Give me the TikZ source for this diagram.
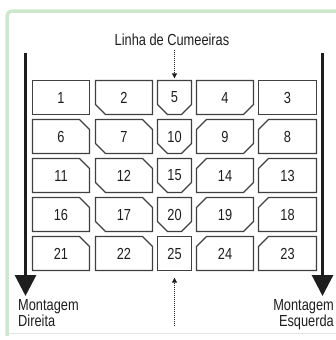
\documentclass[tikz,border=0pt]{standalone}
\usepackage{fontspec}
\setmainfont[FakeStretch=0.8]{Liberation Sans}
\usetikzlibrary{arrows.meta}
\definecolor{frameg}{HTML}{CDE8CD}
\definecolor{ink}{HTML}{1E1E1E}
\tikzset{
 boxline/.style={draw=ink!85, line width=1.1pt, fill=white, line join=miter},
 lbl/.style={inner sep=0pt, text=ink, font=\fontsize{16}{16}\selectfont},
 bigarrow/.style={draw=ink, line width=3pt, -{Triangle[width=21pt,length=21pt]}},
 dotarrow/.style={draw=ink, line width=1pt, densely dotted, -{Triangle[width=5pt,length=5pt]}},
 side/.style={inner sep=0pt, text=ink, font=\fontsize{16}{13.5}\selectfont},
}
% #1 name, #2 x1, #3 x2, #4 top, #5 tl, #6 tr, #7 br, #8 bl, #9 label
\newcommand\chbox[9]{%
 \edef\yb{\the\numexpr#4+34\relax}%
 \ifnum#5=0 \edef\pa{(#2,#4)}\else\edef\pa{(#2,\the\numexpr#4+#5\relax) -- (\the\numexpr#2+#5\relax,#4)}\fi
 \ifnum#6=0 \edef\pb{(#3,#4)}\else\edef\pb{(\the\numexpr#3-#6\relax,#4) -- (#3,\the\numexpr#4+#6\relax)}\fi
 \ifnum#7=0 \edef\pc{(#3,\yb)}\else\edef\pc{(#3,\the\numexpr\yb-#7\relax) -- (\the\numexpr#3-#7\relax,\yb)}\fi
 \ifnum#8=0 \edef\pd{(#2,\yb)}\else\edef\pd{(\the\numexpr#2+#8\relax,\yb) -- (#2,\the\numexpr\yb-#8\relax)}\fi
 \edef\boxpath{\noexpand\draw[boxline] \pa\space -- \pb\space -- \pc\space -- \pd\space -- cycle;}%
 \boxpath
 \pgfmathsetmacro\bw{#3-#2}%
 \node[lbl, minimum width=\bw pt, minimum height=34pt] (#1) at ({(#2+#3)/2},{#4+17}) {#9};
}
\begin{document}
\begin{tikzpicture}[x=1pt,y=-1pt]
\useasboundingbox (0,0) rectangle (336,340);
% frame
\draw[frameg, line width=3.5pt, rounded corners=5pt] (7,336) |- (338,11);
\draw[black!10, line width=0.8pt] (9,333.5) -- (336,333.5);
% title
\node[lbl] (ttl) at (172,40) {Linha de Cumeeiras};
\begin{scope}[shift={(0.5,0.5)}]
% boxes row 1
\chbox{b1}{32}{89}{80}{0}{0}{0}{0}{1}
\chbox{b2}{95}{152}{80}{0}{0}{0}{10}{2}
\chbox{b5}{157}{191}{80}{0}{0}{10}{10}{5}
\chbox{b4}{196}{253}{80}{0}{0}{10}{0}{4}
\chbox{b3}{258}{316}{80}{0}{0}{0}{0}{3}
% row 2
\chbox{b6}{32}{89}{119}{0}{10}{0}{0}{6}
\chbox{b7}{95}{152}{119}{0}{10}{0}{10}{7}
\chbox{b10}{157}{191}{119}{0}{0}{10}{10}{10}
\chbox{b9}{196}{253}{119}{10}{0}{10}{0}{9}
\chbox{b8}{258}{316}{119}{10}{0}{0}{0}{8}
% row 3
\chbox{b11}{32}{89}{158}{0}{10}{0}{0}{11}
\chbox{b12}{95}{152}{158}{0}{10}{0}{10}{12}
\chbox{b15}{157}{191}{158}{0}{0}{10}{10}{15}
\chbox{b14}{196}{253}{158}{10}{0}{10}{0}{14}
\chbox{b13}{258}{316}{158}{10}{0}{0}{0}{13}
% row 4
\chbox{b16}{32}{89}{197}{0}{10}{0}{0}{16}
\chbox{b17}{95}{152}{197}{0}{10}{0}{10}{17}
\chbox{b20}{157}{191}{197}{0}{0}{10}{10}{20}
\chbox{b19}{196}{253}{197}{10}{0}{10}{0}{19}
\chbox{b18}{258}{316}{197}{10}{0}{0}{0}{18}
% row 5
\chbox{b21}{32}{89}{236}{0}{10}{0}{0}{21}
\chbox{b22}{95}{152}{236}{0}{10}{0}{0}{22}
\chbox{b25}{157}{191}{236}{0}{0}{0}{0}{25}
\chbox{b24}{196}{253}{236}{10}{0}{0}{0}{24}
\chbox{b23}{258}{316}{236}{10}{0}{0}{0}{23}
\end{scope}
% dotted arrows
\coordinate (tstart) at (174.5,50);
\coordinate (bstart) at (174.5,326);
\draw[dotarrow, shorten >=2pt] (tstart) -- (b5);
\draw[dotarrow, shorten >=7pt] (bstart) -- (b25);
% big arrows
\coordinate (ltop) at (25.5,53);
\coordinate (lbot) at (25.5,296);
\coordinate (rtop) at (322.5,53);
\coordinate (rbot) at (322.5,296);
\draw[bigarrow] (ltop) -- (lbot);
\draw[bigarrow] (rtop) -- (rbot);
% side labels
\node[side, align=left, anchor=north west] (ml) at (18,299) {Montagem\\Direita};
\node[side, align=right, anchor=north east] (mr) at (334,299) {Montagem\\Esquerda};
\end{tikzpicture}
\end{document}
